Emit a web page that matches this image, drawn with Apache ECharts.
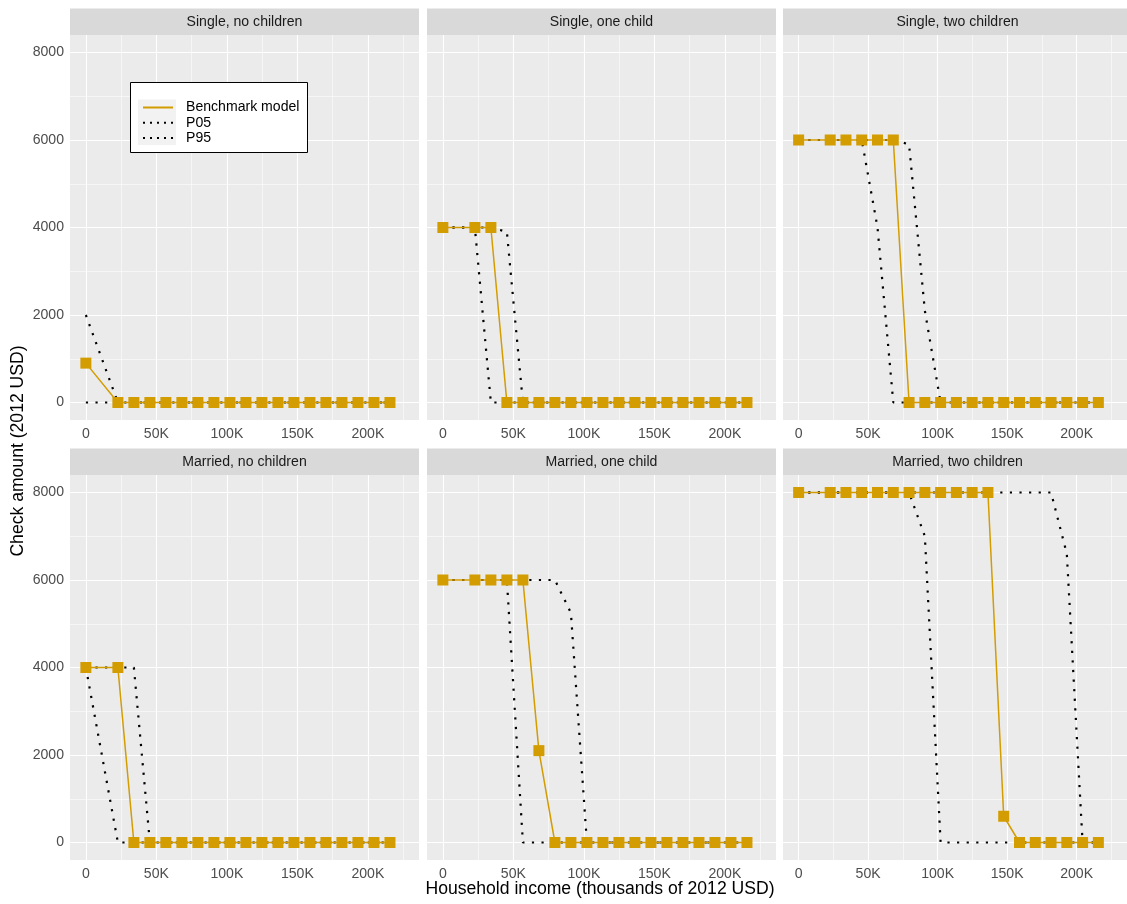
<!DOCTYPE html>
<html>
<head>
<meta charset="utf-8">
<script src="https://cdn.jsdelivr.net/npm/echarts@6/dist/echarts.min.js"></script>
<style>
  html, body { margin: 0; padding: 0; background: #ffffff; }
  #chart { width: 1127px; height: 904px; }
</style>
</head>
<body>
<div id="chart"></div>
<script>
// Household income grid (thousands of 2012 USD) where the benchmark model is evaluated
const incomeGrid = [0, 22.7, 34.05, 45.4, 56.75, 68.1, 79.45, 90.8, 102.15, 113.5, 124.85, 136.2, 147.55, 158.9, 170.25, 181.6, 192.95, 204.3, 215.65];

const panelTitles = ['Single, no children', 'Single, one child', 'Single, two children',
                     'Married, no children', 'Married, one child', 'Married, two children'];

// Benchmark model check amounts (2012 USD), one per income grid point
const benchSingle0  = [900, 0, 0, 0, 0, 0, 0, 0, 0, 0, 0, 0, 0, 0, 0, 0, 0, 0, 0];
const benchSingle1  = [4000, 4000, 4000, 0, 0, 0, 0, 0, 0, 0, 0, 0, 0, 0, 0, 0, 0, 0, 0];
const benchSingle2  = [6000, 6000, 6000, 6000, 6000, 6000, 0, 0, 0, 0, 0, 0, 0, 0, 0, 0, 0, 0, 0];
const benchMarried0 = [4000, 4000, 0, 0, 0, 0, 0, 0, 0, 0, 0, 0, 0, 0, 0, 0, 0, 0, 0];
const benchMarried1 = [6000, 6000, 6000, 6000, 6000, 2100, 0, 0, 0, 0, 0, 0, 0, 0, 0, 0, 0, 0, 0];
const benchMarried2 = [8000, 8000, 8000, 8000, 8000, 8000, 8000, 8000, 8000, 8000, 8000, 8000, 600, 0, 0, 0, 0, 0, 0];

// 5th / 95th percentile check amounts: [income, amount] breakpoints
const p05Single0  = [[0, 0], [215.65, 0]];
const p95Single0  = [[0, 2000], [22.7, 0], [215.65, 0]];
const p05Single1  = [[0, 4000], [22.7, 4000], [34.05, 0], [215.65, 0]];
const p95Single1  = [[0, 4000], [34.05, 4000], [45.4, 3900], [56.75, 0], [215.65, 0]];
const p05Single2  = [[0, 6000], [45.4, 6000], [56.75, 4000], [68.1, 0], [215.65, 0]];
const p95Single2  = [[0, 6000], [68.1, 6000], [79.45, 5900], [90.8, 2100], [102.15, 0], [215.65, 0]];
const p05Married0 = [[0, 4000], [22.7, 0], [215.65, 0]];
const p95Married0 = [[0, 4000], [34.05, 4000], [45.4, 0], [215.65, 0]];
const p05Married1 = [[0, 6000], [45.4, 6000], [56.75, 0], [215.65, 0]];
const p95Married1 = [[0, 6000], [79.45, 6000], [90.8, 5250], [102.15, 0], [215.65, 0]];
const p05Married2 = [[0, 8000], [79.45, 8000], [90.8, 7000], [102.15, 0], [215.65, 0]];
const p95Married2 = [[0, 8000], [181.6, 8000], [192.95, 6600], [204.3, 0], [215.65, 0]];

// Axis breaks
const xTickValues  = [0, 50, 100, 150, 200];
const xMinorValues = [25, 75, 125, 175, 225];
const yTickValues  = [0, 2000, 4000, 6000, 8000];
const yMinorValues = [1000, 3000, 5000, 7000];

const benchSets = [benchSingle0, benchSingle1, benchSingle2, benchMarried0, benchMarried1, benchMarried2];
const p05Sets = [p05Single0, p05Single1, p05Single2, p05Married0, p05Married1, p05Married2];
const p95Sets = [p95Single0, p95Single1, p95Single2, p95Married0, p95Married1, p95Married2];

const GOLD = '#D39C00';
const FONT = "'Liberation Sans', Arial, Helvetica, sans-serif";
const SMALL = 14.08, LARGE = 17.6;
const colLeft = [70, 427, 783];
const rowTop = [35, 475];
const panelW = 349, panelH = 385, stripH = 26.5;
const X_MIN = -11.25, X_MAX = 236.25, Y_MIN = -400, Y_MAX = 8400;

const grids = [], xAxes = [], yAxes = [], series = [], graphics = [];

panelTitles.forEach((title, i) => {
  const col = i % 3, row = Math.floor(i / 3);
  const left = colLeft[col], top = rowTop[row];

  grids.push({
    left: left, top: top, width: panelW, height: panelH,
    show: true, backgroundColor: '#EBEBEB', borderWidth: 0, containLabel: false
  });

  xAxes.push({
    gridIndex: i, type: 'value', min: X_MIN, max: X_MAX,
    axisLine: { show: false },
    axisTick: { show: true, length: 4, customValues: xTickValues, lineStyle: { color: '#333333', width: 1 } },
    axisLabel: {
      show: true, customValues: xTickValues, margin: 7,
      color: '#4D4D4D', fontSize: SMALL, fontFamily: FONT,
      formatter: v => (v === 0 ? '0' : v + 'K')
    },
    splitLine: { show: false }
  });

  yAxes.push({
    gridIndex: i, type: 'value', min: Y_MIN, max: Y_MAX,
    axisLine: { show: false },
    axisTick: { show: col === 0, length: 4, customValues: yTickValues, lineStyle: { color: '#333333', width: 1 } },
    axisLabel: {
      show: col === 0, customValues: yTickValues, margin: 6,
      color: '#4D4D4D', fontSize: SMALL, fontFamily: FONT,
      formatter: v => String(v)
    },
    splitLine: { show: false }
  });

  // panel grid lines (major and minor) drawn through the panel's own axes
  const lines = [];
  yMinorValues.forEach(v => lines.push({ yAxis: v, lineStyle: { color: '#ffffff', width: 0.55, type: 'solid' } }));
  xMinorValues.forEach(v => lines.push({ xAxis: v, lineStyle: { color: '#ffffff', width: 0.55, type: 'solid' } }));
  yTickValues.forEach(v => lines.push({ yAxis: v, lineStyle: { color: '#ffffff', width: 1.1, type: 'solid' } }));
  xTickValues.forEach(v => lines.push({ xAxis: v, lineStyle: { color: '#ffffff', width: 1.1, type: 'solid' } }));
  series.push({
    type: 'line', name: 'gridlines-' + i, xAxisIndex: i, yAxisIndex: i,
    data: [], silent: true, z: 1,
    markLine: {
      z: 1, silent: true, symbol: ['none', 'none'], label: { show: false },
      emphasis: { disabled: true }, animation: false, data: lines
    }
  });

  const dotted = { color: '#000000', width: 2.2, type: [2.2, 7.4], cap: 'butt' };
  series.push({
    type: 'line', name: 'P05', xAxisIndex: i, yAxisIndex: i, z: 2,
    data: p05Sets[i], symbol: 'none', silent: true, lineStyle: dotted
  });
  series.push({
    type: 'line', name: 'P95', xAxisIndex: i, yAxisIndex: i, z: 2,
    data: p95Sets[i], symbol: 'none', silent: true, lineStyle: dotted
  });
  series.push({
    type: 'line', name: 'Benchmark model', xAxisIndex: i, yAxisIndex: i, z: 3,
    data: incomeGrid.map((x, k) => [x, benchSets[i][k]]),
    symbol: 'rect', symbolSize: 11, silent: true,
    itemStyle: { color: GOLD, opacity: 1 },
    lineStyle: { color: GOLD, width: 1.5 }
  });

  // facet strip
  graphics.push({
    type: 'rect', silent: true, z: 0,
    shape: { x: left, y: top - stripH, width: panelW, height: stripH },
    style: { fill: '#D9D9D9' }
  });
  graphics.push({
    type: 'text', silent: true, z: 1,
    x: left + panelW / 2, y: top - stripH / 2,
    style: { text: title, fill: '#1A1A1A', font: SMALL + 'px ' + FONT, align: 'center', verticalAlign: 'middle', textAlign: 'center', textVerticalAlign: 'middle' }
  });
});

// legend frame and key background
graphics.push({
  type: 'rect', silent: true, z: 10,
  shape: { x: 130.5, y: 82.5, width: 177, height: 70 },
  style: { fill: '#ffffff', stroke: '#000000', lineWidth: 1 }
});
graphics.push({
  type: 'rect', silent: true, z: 11,
  shape: { x: 138, y: 99.5, width: 38, height: 45.6 },
  style: { fill: '#F2F2F2' }
});

// axis titles
graphics.push({
  type: 'text', silent: true, z: 1, x: 600, y: 889,
  style: { text: 'Household income (thousands of 2012 USD)', fill: '#000000', font: LARGE + 'px ' + FONT,
           align: 'center', verticalAlign: 'middle', textAlign: 'center', textVerticalAlign: 'middle' }
});
graphics.push({
  type: 'text', silent: true, z: 1, x: 18.5, y: 451, rotation: Math.PI / 2,
  style: { text: 'Check amount (2012 USD)', fill: '#000000', font: LARGE + 'px ' + FONT,
           align: 'center', verticalAlign: 'middle', textAlign: 'center', textVerticalAlign: 'middle' }
});

const chart = echarts.init(document.getElementById('chart'), null, { renderer: 'canvas' });
chart.setOption({
  backgroundColor: '#ffffff',
  animation: false,
  grid: grids,
  xAxis: xAxes,
  yAxis: yAxes,
  series: series,
  legend: {
    z: 20,
    orient: 'vertical', left: 142, top: 100, padding: 0,
    itemWidth: 30, itemHeight: 15, itemGap: 0.2,
    selectedMode: false,
    textStyle: { fontSize: SMALL, color: '#000000', fontFamily: FONT, lineHeight: 15, padding: [0, 0, 0, 8] },
    data: [
      { name: 'Benchmark model', itemStyle: { opacity: 0 } },
      { name: 'P05', itemStyle: { opacity: 0 }, lineStyle: { type: [2, 5] } },
      { name: 'P95', itemStyle: { opacity: 0 }, lineStyle: { type: [2, 5] } }
    ]
  },
  graphic: { elements: graphics }
});
</script>
</body>
</html>
